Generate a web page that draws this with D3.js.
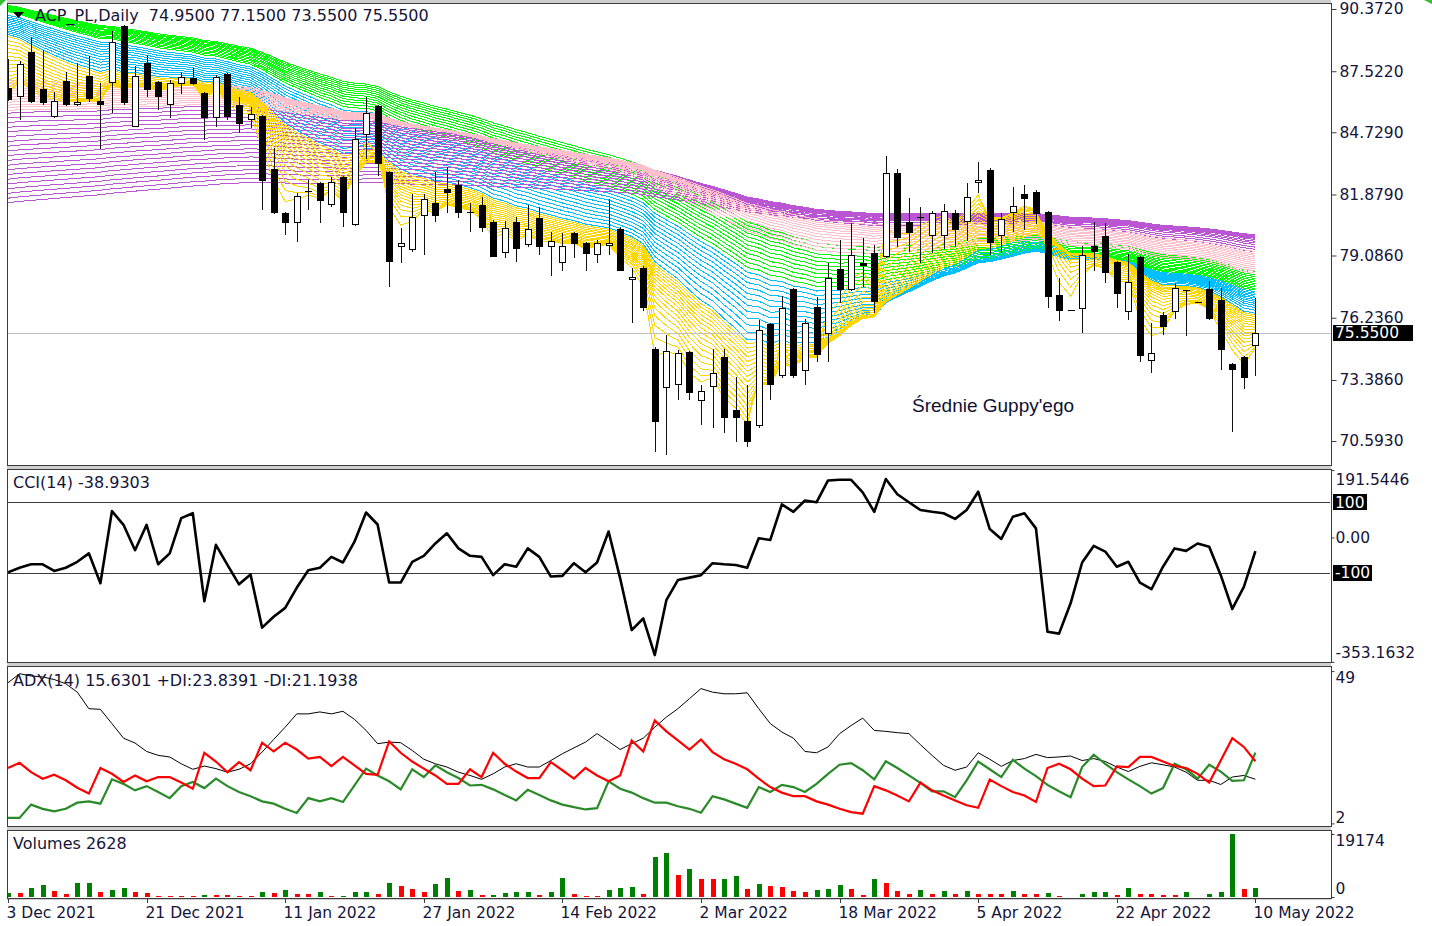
<!DOCTYPE html>
<html>
<head>
<meta charset="utf-8">
<script src="https://cdn.jsdelivr.net/npm/d3@7"></script>
<style>
  html, body { margin: 0; padding: 0; background: #fff; }
  svg { display: block; }
  text { font-family: "DejaVu Sans", Verdana, sans-serif; fill: #15153a; }
</style>
</head>
<body>
<div id="chart"></div>
<script>
// ---- daily candles, ACP_PL (3 Dec 2021 .. 10 May 2022) ----
const opens = [86.75,86.34,88.40,86.71,85.43,87.07,85.98,87.30,86.16,86.98,
  89.59,84.97,87.90,87.03,85.98,86.94,87.21,86.53,85.38,87.40,
  85.98,85.29,85.47,83.05,81.03,80.57,82.02,82.40,81.40,82.68,
  80.48,84.60,85.93,82.91,79.48,79.34,80.89,81.49,82.13,82.31,
  81.08,81.40,80.62,79.20,80.62,79.57,80.80,79.47,78.74,80.12,
  79.66,79.11,79.52,80.30,77.96,78.51,74.80,73.02,73.16,74.67,
  72.42,73.06,74.43,72.01,71.51,71.28,75.95,73.57,77.55,73.80,
  76.73,75.49,78.47,77.50,78.74,79.20,79.02,82.86,80.62,80.85,
  79.98,79.98,81.03,80.62,82.40,83.00,79.98,81.03,81.90,81.99,
  81.08,77.28,76.59,76.63,79.52,79.98,78.79,76.50,79.02,74.25,
  76.36,76.50,77.50,76.96,77.55,77.05,74.12,74.44,74.95];
const highs = [88.08,87.99,89.09,88.49,86.57,87.49,87.90,88.22,86.98,89.36,
  89.64,87.76,88.27,87.08,87.12,87.49,87.67,86.58,87.35,87.45,
  86.34,85.88,85.52,84.01,81.08,81.95,82.54,82.45,82.68,82.72,
  84.92,86.34,85.98,82.95,80.34,81.90,81.90,82.91,83.14,82.54,
  81.49,81.76,80.71,80.66,80.85,81.40,81.31,80.16,80.12,80.16,
  79.70,79.79,81.67,80.39,78.51,78.60,74.89,75.44,74.76,74.70,
  73.16,74.80,74.80,73.52,73.16,76.13,75.99,77.23,77.60,76.18,
  77.18,78.74,79.79,80.57,79.88,79.57,83.64,83.05,81.72,81.31,
  81.12,81.44,81.17,82.40,83.37,83.09,81.03,82.22,82.31,82.08,
  81.12,78.06,76.59,79.52,80.62,80.57,78.83,79.15,79.07,75.99,
  76.50,77.82,77.52,76.96,77.92,77.60,74.15,74.48,77.15];
const lows = [86.15,85.29,86.07,85.98,85.40,85.93,85.95,86.11,83.96,85.61,
  85.98,84.95,86.34,85.75,85.38,86.48,86.89,84.37,84.97,85.29,
  84.69,84.92,81.17,80.98,80.02,79.70,81.17,80.57,81.30,80.39,
  80.43,83.50,82.72,77.64,78.74,79.25,79.11,80.62,81.03,80.80,
  80.16,80.16,79.00,78.97,78.79,79.47,79.11,78.15,78.37,78.97,
  78.37,78.74,79.11,78.37,75.99,76.54,70.09,69.95,72.47,72.47,
  71.32,71.19,70.96,70.55,70.32,71.19,72.47,73.48,73.50,73.16,
  74.21,74.21,76.91,77.45,77.64,76.45,78.97,79.47,79.25,78.74,
  79.20,79.38,79.47,79.75,81.95,79.11,79.20,80.16,80.25,80.53,
  76.68,76.09,76.59,75.53,78.38,77.82,76.68,76.13,74.21,73.70,
  75.44,76.18,75.40,76.96,76.15,73.84,71.00,72.97,73.55];
const closes = [86.21,87.85,86.11,86.07,86.16,85.98,86.11,86.25,85.98,88.86,
  86.07,87.30,86.66,86.34,86.98,87.26,86.94,85.38,87.26,85.43,
  85.11,85.56,82.50,81.03,80.57,81.81,81.99,81.58,82.45,81.03,
  84.42,85.61,83.27,78.79,79.66,80.85,81.67,80.89,81.95,81.03,
  81.07,80.34,79.02,80.34,79.38,80.30,79.47,79.75,79.52,79.61,
  79.15,79.66,79.66,78.37,78.10,76.68,71.46,74.71,74.62,72.79,
  72.88,73.70,71.64,71.64,70.55,75.67,73.16,76.68,73.57,75.99,
  74.53,78.06,77.50,79.11,78.60,76.96,82.86,79.89,80.12,80.80,
  81.03,81.12,80.25,81.76,82.54,79.66,80.76,81.35,81.67,80.98,
  77.18,76.54,76.59,79.11,79.25,78.28,77.32,77.87,74.48,74.62,
  75.81,77.60,77.48,76.96,76.18,74.76,73.84,73.48,75.55];

// ---- indicator panels ----
const cci = [-99,-86,-76,-76,-95,-86,-69,-45,-130,75,
  36,-36,36,-76,-45,55,69,-181,-21,-78,
  -133,-105,-256,-225,-200,-143,-93,-86,-55,-71,
  -12,71,37,-128,-128,-69,-52,-17,12,-31,
  -52,-55,-107,-76,-83,-31,-55,-111,-109,-73,
  -99,-71,17,-116,-263,-230,-334,-178,-121,-114,
  -107,-73,-76,-78,-86,-2,-7,94,73,105,
  100,162,164,164,128,73,166,123,100,78,
  73,69,53,78,130,24,-4,59,69,26,
  -268,-273,-187,-71,-24,-40,-83,-69,-128,-147,
  -83,-31,-38,-17,-26,-107,-203,-140,-38.9303];
const adx = [45.4,48.2,47.5,47.2,46.4,45.1,42.5,37.4,37.2,32.8,
  28.3,26.8,24.2,23.0,22.5,20.4,18.7,19.7,18.9,17.8,
  18.7,20.4,24.0,27.9,31.7,35.8,35.8,36.4,35.8,36.6,
  34.1,30.7,26.6,27.1,26.9,24.5,21.8,20.4,19.4,17.8,
  16.8,15.6,17.3,19.4,20.4,19.4,19.4,21.4,23.5,25.3,
  27.1,29.7,27.3,24.8,26.6,28.3,31.7,34.8,37.4,40.5,
  43.6,42.5,42.0,42.0,42.3,37.4,32.8,30.2,28.3,24.2,
  23.8,25.6,29.7,32.2,34.5,30.7,30.4,30.0,29.7,26.3,
  23.0,19.9,18.4,19.4,23.8,21.8,19.6,21.4,22.0,23.3,
  22.3,22.5,22.8,21.4,22.0,21.1,19.4,18.0,19.6,20.7,
  20.1,19.4,17.8,15.3,15.3,14.0,16.3,16.8,15.6301];
const plusDI = [3.7,3.7,7.8,6.5,5.7,6.5,8.4,8.8,8.1,15.6,
  14.2,12.2,13.5,11.7,9.8,13.5,14.8,12.9,15.8,13.5,
  11.7,10.4,8.8,8.1,6.5,5.2,9.8,8.8,9.8,8.6,
  13.7,18.9,16.8,15.0,12.5,18.7,16.3,19.9,17.8,16.0,
  13.7,13.9,12.5,10.8,9.1,12.4,10.8,9.1,7.8,7.0,
  6.3,6.7,15.0,12.7,11.5,9.8,8.4,8.4,7.3,6.5,
  5.3,10.4,9.4,8.1,6.8,13.2,11.7,13.9,13.2,11.7,
  14.2,17.3,20.1,20.6,18.4,15.6,21.2,19.1,16.8,14.5,
  11.9,11.9,10.1,15.3,21.1,18.7,16.3,21.6,18.9,16.6,
  13.9,11.9,10.1,19.4,23.2,20.4,17.8,15.6,13.5,11.2,
  12.9,20.4,18.7,15.8,20.1,18.0,15.1,15.3,23.8391];
const minusDI = [19.1,20.7,17.8,15.8,17.0,15.3,13.0,11.2,19.1,17.3,
  14.8,16.8,15.0,16.3,16.3,14.6,12.7,23.8,21.1,17.8,
  20.9,18.4,26.9,24.2,26.9,24.8,22.0,22.5,19.7,22.5,
  19.9,17.3,17.0,27.3,23.8,21.1,18.9,16.8,14.2,14.2,
  18.7,16.3,23.8,20.4,18.0,16.0,16.0,20.9,18.4,15.8,
  19.1,16.8,15.0,16.8,27.6,24.2,33.8,30.4,27.6,24.8,
  27.9,24.0,21.8,20.4,18.7,15.8,13.2,11.5,10.4,10.4,
  8.8,7.8,6.5,5.5,5.0,13.5,12.2,10.6,8.8,14.6,
  12.2,10.6,9.1,7.6,6.8,15.5,13.5,11.7,10.6,8.6,
  19.1,20.4,18.7,15.8,13.5,13.7,19.6,19.4,22.5,22.5,
  21.1,19.7,19.1,17.3,14.6,21.4,28.3,25.6,21.1938];
const volumes = [1200,1100,2860,3670,1730,1020,4300,4400,1430,2240,
  2860,1430,1330,310,300,290,280,710,610,600,
  410,350,1500,1300,2240,1020,950,1430,410,450,
  1430,1530,1020,4390,3370,2350,1430,4080,5920,1840,
  2140,510,610,1120,1430,1530,610,1630,5920,1020,
  310,250,2240,2860,3000,920,12240,13360,6730,8670,
  5610,5410,5610,6430,2550,4080,3260,3160,1730,1430,
  2040,2550,3770,2550,610,5410,4390,1730,1020,2140,
  1020,1730,1020,1730,920,880,850,1730,920,900,
  1330,410,100,1020,1430,1530,610,2650,920,900,
  610,600,1530,100,1020,1430,19174,2500,2628];

// ---- Guppy ribbon: EMA periods and their values at the first bar ----
const yellowPeriods = [3,4,5,6,7,8,9,10,11,12,13,14,15,16,17,18];
const yellowSeeds = [86.4,86.58,86.76,86.94,87.12,87.3,87.48,87.66,87.84,88.02,88.2,88.38,88.56,88.74,88.92,89.1];
const bluePeriods = [19,21,23,25,27,29,31,33,35,37,39,41];
const blueSeeds = [89.2,89.28,89.36,89.44,89.52,89.6,89.68,89.76,89.84,89.92,90.0,90.08];
const greenPeriods = [43,45,47,49,51,53,55,57,59,61,63,65];
const greenSeeds = [90.25,90.28,90.3,90.33,90.35,90.38,90.4,90.43,90.45,90.48,90.5,90.53];
const pinkPeriods = [66,69,72,75,78,81,84,87,90,93,96,100];
const pinkSeeds = [87.1,86.97,86.85,86.72,86.6,86.47,86.35,86.22,86.1,85.97,85.85,85.72];
const violetPeriods = [100,105,110,116,121,126,132,137,142,147,153,158,163,168,174,179,184,189,195,200];
const violetSeeds = [85.6,85.38,85.17,84.95,84.74,84.52,84.3,84.09,83.87,83.66,83.44,83.22,83.01,82.79,82.58,82.36,82.14,81.93,81.71,81.5];

// ---- axis labels ----
const priceTicks = [90.372, 87.522, 84.729, 81.879, 79.086, 76.236, 73.386, 70.593];
const cciTicks = [191.5446, 0, -353.1632];
const adxTicks = [49, 2];
const volTicks = [19174, 0];
const dateLabels = ["3 Dec 2021","21 Dec 2021","11 Jan 2022","27 Jan 2022","14 Feb 2022",
  "2 Mar 2022","18 Mar 2022","5 Apr 2022","22 Apr 2022","10 May 2022"];
const dateLabelBars = [0,12,24,36,48,60,72,84,96,108];

const W = 1432, H = 926;
const left = 7, right = 1331;
const panels = {
  main: [3, 465],
  cci: [469, 662],
  adx: [666, 826],
  vol: [830, 898]
};

const svg = d3.select("#chart").append("svg")
  .attr("width", W).attr("height", H)
  .attr("viewBox", `0 0 ${W} ${H}`);

const n = closes.length;
const x = d3.scaleLinear().domain([0, n - 1]).range([8, 1255.4]);
const yP = d3.scaleLinear().domain([70.593, 90.372]).range([441, 9]);
const yC = d3.scaleLinear().domain([-100, 100]).range([572.7, 502.3]);
const yA = d3.scaleLinear().domain([2, 49]).range([823.4, 671.1]);
const yV = d3.scaleLinear().domain([0, 19174]).range([897, 834]);

// separators between sub windows
svg.append("rect").attr("x", left).attr("y", 0).attr("width", right - left).attr("height", H - 26)
  .attr("fill", "#cfcfcf");
Object.entries(panels).forEach(([k, [t, b]]) => {
  svg.append("rect").attr("x", left).attr("y", t).attr("width", right - left).attr("height", b - t)
    .attr("fill", "#fff");
  svg.append("clipPath").attr("id", "clip-" + k)
    .append("rect").attr("x", left + 1).attr("y", t + 1).attr("width", right - left - 2).attr("height", b - t - 2);
});

// ---- Guppy EMAs ----
function ema(period, seed) {
  const k = 2 / (period + 1);
  let v = seed;
  return closes.map((c, i) => (i === 0 ? v : (v = v + k * (c - v))));
}
// drawing order: later groups lie on top
const ribbon = [
  { color: "#00FF00", periods: greenPeriods, seeds: greenSeeds },
  { color: "#00BFFF", periods: bluePeriods, seeds: blueSeeds },
  { color: "#BA55D3", periods: violetPeriods, seeds: violetSeeds },
  { color: "#FFC0CB", periods: pinkPeriods, seeds: pinkSeeds },
  { color: "#FFD700", periods: yellowPeriods, seeds: yellowSeeds }
];
const lineP = d3.line().x((d, i) => x(i)).y(d => yP(d));
const gRib = svg.append("g").attr("clip-path", "url(#clip-main)");
ribbon.forEach(g => {
  g.periods.forEach((p, j) => {
    gRib.append("path")
      .attr("d", lineP(ema(p, g.seeds[j])))
      .attr("fill", "none")
      .attr("stroke", g.color)
      .attr("stroke-width", 1)
      .attr("shape-rendering", "crispEdges");
  });
});

// current price line
const lastY = Math.round(yP(closes[n - 1])) + 0.5;
svg.append("line").attr("x1", left).attr("x2", right)
  .attr("y1", lastY).attr("y2", lastY).attr("stroke", "#c0c0c0");

// ---- candles ----
const bars = closes.map((c, i) => ({ i, o: opens[i], h: highs[i], l: lows[i], c }));
const gC = svg.append("g").attr("clip-path", "url(#clip-main)").attr("shape-rendering", "crispEdges");
bars.forEach(d => {
  const cx = Math.round(x(d.i));
  gC.append("line").attr("x1", cx + 0.5).attr("x2", cx + 0.5)
    .attr("y1", yP(d.h)).attr("y2", yP(d.l)).attr("stroke", "#111");
  const top = Math.round(yP(Math.max(d.o, d.c)));
  const bot = Math.round(yP(Math.min(d.o, d.c)));
  const h = Math.max(1, bot - top);
  if (d.c > d.o) {
    gC.append("rect").attr("x", cx - 2.5).attr("y", top + 0.5)
      .attr("width", 6).attr("height", Math.max(1, h - 1))
      .attr("fill", "#fff").attr("stroke", "#000");
  } else {
    gC.append("rect").attr("x", cx - 3).attr("y", top)
      .attr("width", 7).attr("height", h).attr("fill", "#000");
  }
});

svg.append("text").attr("x", 912).attr("y", 412)
  .style("font-family", "'Liberation Sans', Arial, sans-serif").style("font-size", "19px")
  .style("fill", "#101030").text("Średnie Guppy'ego");

// ---- CCI ----
const gCci = svg.append("g").attr("clip-path", "url(#clip-cci)");
[100, -100].forEach(v => {
  const yy = Math.round(yC(v)) + 0.5;
  gCci.append("line").attr("x1", left).attr("x2", right)
    .attr("y1", yy).attr("y2", yy).attr("stroke", "#3a3a3a");
});
gCci.append("path")
  .attr("d", d3.line().x((d, i) => x(i)).y(d => yC(d))(cci))
  .attr("fill", "none").attr("stroke", "#000").attr("stroke-width", 2.6)
  .attr("stroke-linejoin", "round");

// ---- ADX ----
const gAdx = svg.append("g").attr("clip-path", "url(#clip-adx)");
const lineA = d3.line().x((d, i) => x(i)).y(d => yA(d));
gAdx.append("path").attr("d", lineA(adx)).attr("fill", "none").attr("stroke", "#000").attr("stroke-width", 1);
gAdx.append("path").attr("d", lineA(plusDI)).attr("fill", "none").attr("stroke", "#2a8a2a").attr("stroke-width", 2.2);
gAdx.append("path").attr("d", lineA(minusDI)).attr("fill", "none").attr("stroke", "#ff0000").attr("stroke-width", 2.2);

// ---- Volumes ----
const gVol = svg.append("g").attr("clip-path", "url(#clip-vol)").attr("shape-rendering", "crispEdges");
gVol.selectAll("rect").data(volumes).join("rect")
  .attr("x", (d, i) => Math.round(x(i)) - 2)
  .attr("y", d => yV(d))
  .attr("width", 5)
  .attr("height", d => yV(0) - yV(d))
  .attr("fill", (d, i) => (i > 0 && d < volumes[i - 1]) ? "#ff0000" : "#008000");

// ---- panel borders ----
Object.values(panels).forEach(([t, b]) => {
  svg.append("rect").attr("x", left + 0.5).attr("y", t + 0.5)
    .attr("width", right - left).attr("height", b - t)
    .attr("fill", "none").attr("stroke", "#3c3c3c").attr("shape-rendering", "crispEdges");
});

// ---- right axes ----
const plain = f => d => f(d).replace("\u2212", "-");
function rightAxis(scale, values, fmt, size, pad, shifts) {
  const g = svg.append("g").attr("transform", `translate(${right + 0.5},0)`)
    .call(d3.axisRight(scale).tickValues(values).tickSize(size).tickPadding(pad).tickFormat(fmt));
  g.select(".domain").remove();
  g.selectAll("line").attr("stroke", "#3c3c3c");
  g.selectAll("text").style("font-size", "15.5px").attr("fill", "#15153a")
    .attr("transform", (d, i) => `translate(0,${shifts ? shifts[i] : 0})`);
  return g;
}
rightAxis(yP, priceTicks, d3.format(".4f"), 5, 3);
rightAxis(yC, cciTicks, d => d === 0 ? "0.00" : plain(d3.format(".4f"))(d), 3, 1, [9, 0, -9]);
rightAxis(yA, adxTicks, d3.format("d"), 3, 1, [6, -6]);
rightAxis(yV, volTicks, d3.format("d"), 3, 1, [7, -8]);

// label boxes
function boxLabel(yc, label, w) {
  svg.append("rect").attr("x", right + 2).attr("y", Math.round(yc) - 8).attr("width", w).attr("height", 16).attr("fill", "#000");
  svg.append("text").attr("x", right + 4).attr("y", yc).attr("dy", "0.35em")
    .style("font-size", "15.5px").style("fill", "#fff").text(label);
}
boxLabel(yP(closes[n - 1]), closes[n - 1].toFixed(4), 80);
boxLabel(yC(100), "100", 34);
boxLabel(yC(-100), "-100", 39);

// ---- time axis ----
const gT = svg.append("g");
dateLabelBars.forEach((b, k) => {
  const cx = Math.round(x(b)) + 0.5;
  gT.append("line").attr("x1", cx).attr("x2", cx).attr("y1", 898).attr("y2", 903).attr("stroke", "#3c3c3c");
  gT.append("text").attr("x", cx - 2).attr("y", 913).attr("dy", "0.35em")
    .style("font-size", "15.5px").text(dateLabels[k]);
});

// ---- titles ----
svg.append("path").attr("d", "M13,12 L24,12 L18.5,18 Z").attr("fill", "#000");
svg.append("text").attr("x", 35).attr("y", 15).attr("dy", "0.35em")
  .attr("xml:space", "preserve").style("font-size", "16px")
  .text("ACP_PL,Daily  74.9500 77.1500 73.5500 75.5500");
svg.append("text").attr("x", 13).attr("y", 482).attr("dy", "0.35em").style("font-size", "16px")
  .text("CCI(14) -38.9303");
svg.append("text").attr("x", 13).attr("y", 680).attr("dy", "0.35em").style("font-size", "16px")
  .text("ADX(14) 15.6301 +DI:23.8391 -DI:21.1938");
svg.append("text").attr("x", 13).attr("y", 843).attr("dy", "0.35em").style("font-size", "16px")
  .text("Volumes 2628");

// small one-click markers in the corners
svg.append("path").attr("d", "M0,0 L6,0 L0,6 Z").attr("fill", "#2fbf2f");
svg.append("path").attr("d", "M1424,0 L1432,0 L1432,4 Z").attr("fill", "#2fbf2f");
</script>
</body>
</html>
